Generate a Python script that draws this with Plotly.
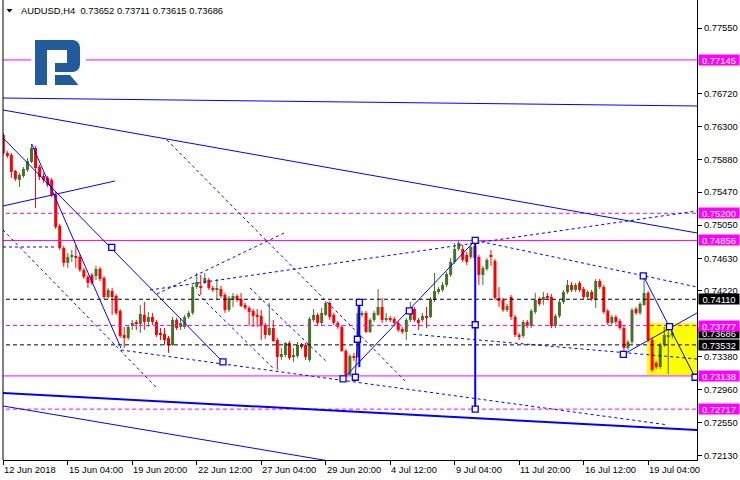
import plotly.graph_objects as go

# ---------------- data (AUDUSD H4 candles, index 0 = 12 Jun 2018 12:00) ----------------
opens = [
    0.76194, 0.75965, 0.75940, 0.75737, 0.75623, 0.75674, 0.75750, 0.75852, 0.76029, 0.75788,
    0.75674, 0.75649, 0.75623, 0.75433, 0.75040, 0.74761, 0.74571, 0.74647, 0.74647, 0.74647,
    0.74482, 0.74393, 0.74419, 0.74406, 0.74495, 0.74380, 0.74139, 0.74215, 0.74152, 0.73962,
    0.73658, 0.73620, 0.73772, 0.73810, 0.73797, 0.73912, 0.73823, 0.73886, 0.73823, 0.73670,
    0.73670, 0.73620, 0.73531, 0.73848, 0.73759, 0.73759, 0.73886, 0.73937, 0.74266, 0.74273,
    0.74317, 0.74355, 0.74254, 0.74235, 0.74241, 0.74165, 0.73975, 0.74114, 0.74152, 0.74114,
    0.74038, 0.74000, 0.73962, 0.73912, 0.73899, 0.73785, 0.73658, 0.73746, 0.73594, 0.73379,
    0.73404, 0.73556, 0.73379, 0.73391, 0.73531, 0.73531, 0.73341, 0.73848, 0.73912, 0.73810,
    0.73912, 0.74063, 0.73912, 0.73810, 0.73759, 0.73455, 0.73151, 0.73391, 0.73379, 0.73912,
    0.73937, 0.73696, 0.73848, 0.73912, 0.74012, 0.73854, 0.73861, 0.73861, 0.73810, 0.73734,
    0.73696, 0.73848, 0.73987, 0.73848, 0.73848, 0.73886, 0.73886, 0.74101, 0.74203, 0.74228,
    0.74292, 0.74419, 0.74584, 0.74748, 0.74748, 0.74672, 0.74647, 0.74786, 0.74647, 0.74419,
    0.74495, 0.74659, 0.74596, 0.74127, 0.74101, 0.73975, 0.74139, 0.73886, 0.73658, 0.73645,
    0.73823, 0.73772, 0.73950, 0.74114, 0.74101, 0.74139, 0.74139, 0.73772, 0.73899, 0.74076,
    0.74203, 0.74292, 0.74228, 0.74317, 0.74241, 0.74139, 0.74203, 0.74114, 0.74342, 0.74266,
    0.73962, 0.73810, 0.73886, 0.73835, 0.73746, 0.73493, 0.73569, 0.73987, 0.73937, 0.74038,
    0.74190, 0.73594, 0.73303, 0.73252, 0.73531, 0.73645, 0.73652,
]
highs = [
    0.76219, 0.75990, 0.75965, 0.75750, 0.75712, 0.75788, 0.75902, 0.76079, 0.76054, 0.75813,
    0.75712, 0.75674, 0.75649, 0.75471, 0.75065, 0.74786, 0.74697, 0.74735, 0.74799, 0.74672,
    0.74507, 0.74419, 0.74444, 0.74533, 0.74520, 0.74406, 0.74254, 0.74254, 0.74177, 0.73987,
    0.73759, 0.73785, 0.73848, 0.73848, 0.74038, 0.74076, 0.73950, 0.73937, 0.73848, 0.73746,
    0.73746, 0.73645, 0.73886, 0.73873, 0.73873, 0.73912, 0.73962, 0.74292, 0.74444, 0.74419,
    0.74444, 0.74380, 0.74279, 0.74368, 0.74279, 0.74190, 0.74152, 0.74190, 0.74177, 0.74190,
    0.74063, 0.74025, 0.73987, 0.73987, 0.73975, 0.73810, 0.74063, 0.73848, 0.73620, 0.73493,
    0.73569, 0.73581, 0.73493, 0.73569, 0.73556, 0.73556, 0.73886, 0.73987, 0.73937, 0.74000,
    0.74089, 0.74089, 0.73937, 0.73835, 0.73785, 0.73480, 0.73416, 0.73429, 0.74038, 0.73962,
    0.73962, 0.73873, 0.73962, 0.74241, 0.74127, 0.73937, 0.73899, 0.73886, 0.73835, 0.73759,
    0.73873, 0.74076, 0.74012, 0.73873, 0.73937, 0.74012, 0.74139, 0.74444, 0.74266, 0.74330,
    0.74457, 0.74634, 0.74824, 0.74850, 0.74799, 0.74710, 0.74824, 0.74856, 0.74672, 0.74533,
    0.74634, 0.74735, 0.74622, 0.74266, 0.74127, 0.74051, 0.74165, 0.73912, 0.73683, 0.73848,
    0.73848, 0.73987, 0.74190, 0.74139, 0.74203, 0.74190, 0.74177, 0.73924, 0.74101, 0.74228,
    0.74355, 0.74330, 0.74317, 0.74342, 0.74266, 0.74228, 0.74228, 0.74368, 0.74368, 0.74292,
    0.73987, 0.73912, 0.73912, 0.73861, 0.73772, 0.73594, 0.74000, 0.74012, 0.74076, 0.74393,
    0.74215, 0.73620, 0.73328, 0.73556, 0.73759, 0.73759, 0.73711,
]
lows = [
    0.75940, 0.75902, 0.75649, 0.75610, 0.75534, 0.75649, 0.75725, 0.75839, 0.75268, 0.75623,
    0.75585, 0.75534, 0.75407, 0.75002, 0.74735, 0.74520, 0.74507, 0.74584, 0.74507, 0.74457,
    0.74368, 0.74254, 0.74292, 0.74355, 0.74342, 0.74114, 0.74114, 0.73912, 0.73912, 0.73620,
    0.73493, 0.73594, 0.73721, 0.73721, 0.73683, 0.73721, 0.73759, 0.73785, 0.73632, 0.73594,
    0.73531, 0.73429, 0.73518, 0.73721, 0.73721, 0.73734, 0.73861, 0.73912, 0.74241, 0.74165,
    0.74304, 0.74228, 0.74203, 0.74101, 0.74127, 0.73937, 0.73950, 0.74012, 0.74076, 0.74012,
    0.73975, 0.73772, 0.73759, 0.73759, 0.73594, 0.73607, 0.73645, 0.73569, 0.73214, 0.73341,
    0.73379, 0.73341, 0.73316, 0.73366, 0.73480, 0.73341, 0.73316, 0.73823, 0.73772, 0.73785,
    0.73899, 0.73848, 0.73785, 0.73734, 0.73442, 0.73138, 0.73138, 0.73328, 0.73366, 0.73886,
    0.73683, 0.73683, 0.73823, 0.73899, 0.73810, 0.73823, 0.73823, 0.73785, 0.73696, 0.73670,
    0.73594, 0.73823, 0.73823, 0.73721, 0.73823, 0.73746, 0.73873, 0.74076, 0.74177, 0.74203,
    0.74266, 0.74393, 0.74558, 0.74723, 0.74584, 0.74545, 0.74622, 0.74584, 0.74292, 0.74292,
    0.74469, 0.74533, 0.74101, 0.74012, 0.73950, 0.73950, 0.73848, 0.73632, 0.73594, 0.73620,
    0.73746, 0.73746, 0.73924, 0.74025, 0.74038, 0.74101, 0.73746, 0.73746, 0.73873, 0.74051,
    0.74177, 0.74203, 0.74203, 0.74203, 0.74114, 0.74114, 0.74089, 0.74000, 0.74241, 0.73924,
    0.73785, 0.73785, 0.73797, 0.73721, 0.73429, 0.73467, 0.73543, 0.73912, 0.73912, 0.74025,
    0.73569, 0.73189, 0.73227, 0.73227, 0.73505, 0.73163, 0.73615,
]
closes = [
    0.75965, 0.75927, 0.75725, 0.75636, 0.75687, 0.75763, 0.75864, 0.76029, 0.75775, 0.75661,
    0.75623, 0.75560, 0.75433, 0.75027, 0.74761, 0.74571, 0.74647, 0.74672, 0.74634, 0.74482,
    0.74393, 0.74317, 0.74317, 0.74495, 0.74368, 0.74139, 0.74228, 0.74139, 0.73937, 0.73645,
    0.73620, 0.73759, 0.73810, 0.73797, 0.73924, 0.73823, 0.73886, 0.73823, 0.73658, 0.73664,
    0.73594, 0.73531, 0.73848, 0.73746, 0.73810, 0.73886, 0.73937, 0.74266, 0.74330, 0.74266,
    0.74380, 0.74254, 0.74228, 0.74241, 0.74152, 0.73975, 0.74127, 0.74152, 0.74101, 0.74025,
    0.74000, 0.73950, 0.73899, 0.73886, 0.73772, 0.73658, 0.73746, 0.73581, 0.73379, 0.73416,
    0.73556, 0.73366, 0.73404, 0.73531, 0.73505, 0.73379, 0.73861, 0.73912, 0.73810, 0.73937,
    0.74063, 0.73886, 0.73810, 0.73759, 0.73455, 0.73151, 0.73391, 0.73366, 0.73937, 0.73937,
    0.73696, 0.73848, 0.73937, 0.74012, 0.73848, 0.73861, 0.73854, 0.73810, 0.73721, 0.73696,
    0.73848, 0.73975, 0.73848, 0.73810, 0.73899, 0.73880, 0.74114, 0.74215, 0.74241, 0.74292,
    0.74431, 0.74584, 0.74748, 0.74824, 0.74609, 0.74584, 0.74773, 0.74634, 0.74419, 0.74507,
    0.74609, 0.74653, 0.74127, 0.74089, 0.73975, 0.74025, 0.73886, 0.73658, 0.73632, 0.73823,
    0.73772, 0.73962, 0.74101, 0.74051, 0.74139, 0.74133, 0.73772, 0.73899, 0.74076, 0.74203,
    0.74292, 0.74228, 0.74292, 0.74228, 0.74139, 0.74203, 0.74114, 0.74342, 0.74266, 0.73950,
    0.73810, 0.73886, 0.73823, 0.73746, 0.73493, 0.73569, 0.73975, 0.73937, 0.74051, 0.74190,
    0.73594, 0.73214, 0.73252, 0.73531, 0.73658, 0.73651, 0.73686,
]

tick_index = [0, 16, 32, 48, 64, 80, 96, 112, 128, 144, 160]
tick_text = ["12 Jun 2018", "15 Jun 04:00", "19 Jun 20:00", "22 Jun 12:00", "27 Jun 04:00",
             "29 Jun 20:00", "4 Jul 12:00", "9 Jul 04:00", "11 Jul 20:00", "16 Jul 12:00",
             "19 Jul 04:00"]
price_ticks = [0.77550, 0.76720, 0.76300, 0.75880, 0.75470, 0.75050, 0.74630,
               0.74220, 0.73380, 0.72960, 0.72550, 0.72130]

levels_magenta_solid = [0.77145, 0.74856, 0.73138]
levels_magenta_dash = [0.75200, 0.73777, 0.72717]
levels_black_dash = [0.74110, 0.73532]
bid_price = 0.73686
zone_box = (159.7, 0.73151, 0.73810)   # start bar, low price, high price

# analysis objects: lists of (bar index, price) points
blue_solid = [
    [(-0.07, 0.76662), (172.13, 0.76561)],
    [(-0.07, 0.76510), (172.13, 0.74951)],
    [(-0.07, 0.75293), (27.7, 0.75610)],
    [(-0.07, 0.76155), (54.5, 0.73315)],
    [(7.05, 0.76079), (29.2, 0.73492)],
    [(-0.07, 0.72757), (172.13, 0.71273)],
    [(84.3, 0.73100), (117.1, 0.74856)],
    [(153.85, 0.73412), (172.13, 0.73936)],
    [(158.8, 0.74408), (171.65, 0.73121)],
    [(87.35, 0.73121), (87.85, 0.73603), (88.35, 0.74072)],
]
blue_thick = [
    [(-0.07, 0.72922), (172.13, 0.72453)],
    [(117.1, 0.74856), (117.1, 0.72717)],
    [(88.35, 0.74072), (88.35, 0.73250)],
]
blue_dash = [
    [(-0.07, 0.74989), (38.1, 0.72985)],
    [(-0.07, 0.74773), (13.3, 0.74773)],
    [(29.2, 0.73467), (164.2, 0.72522)],
    [(38.1, 0.74177), (70.2, 0.74963)],
    [(36.4, 0.74228), (172.13, 0.75230)],
    [(101.7, 0.73666), (172.13, 0.73353)],
    [(61.2, 0.74253), (80.3, 0.73315)],
    [(48.3, 0.74177), (67.4, 0.73213)],
    [(40.6, 0.76130), (100.2, 0.73049)],
    [(117.1, 0.74856), (172.13, 0.74266)],
]
anchor_points = [
    (26.9, 0.74769), (54.5, 0.73315), (84.3, 0.73100), (87.35, 0.73121), (87.85, 0.73603),
    (88.35, 0.74072), (100.75, 0.73962), (117.1, 0.74856), (117.1, 0.73787), (117.1, 0.72717),
    (153.85, 0.73412), (158.8, 0.74408), (165.3, 0.73762), (171.65, 0.73121),
]

# ---------------- styling ----------------
FONT = "Liberation Sans, Arial, sans-serif"
FS = 9.4
RED = "#ff0000"
GREEN = "#477228"
BLUE = "#0000ff"
MAGENTA = "#ff00ff"
XMIN, XMAX = -0.0744, 172.1315
YMIN, YMAX = 0.72072, 0.77905
L, R, T, B = 3, 43, 0, 20
PW, PH = 740 - L - R, 480 - T - B


def px2paper(x, y):
    return (x - L) / PW, (PH + T - y) / PH


def path_px(points):
    parts = []
    for k, (x, y) in enumerate(points):
        px, py = px2paper(x, y)
        parts.append(("M" if k == 0 else "L") + f"{px:.5f},{py:.5f}")
    return " ".join(parts) + " Z"


def segs_xy(segs):
    xs, ys = [], []
    for s in segs:
        for (a, b) in s:
            xs.append(a)
            ys.append(b)
        xs.append(None)
        ys.append(None)
    return xs, ys


n = len(opens)
idx = list(range(n))
is_up = [closes[i] >= opens[i] for i in idx]

fig = go.Figure()

# wicks
for up_flag, col in ((True, GREEN), (False, RED)):
    wx, wy = [], []
    for i in idx:
        if is_up[i] == up_flag:
            wx += [i, i, None]
            wy += [lows[i], highs[i], None]
    fig.add_trace(go.Scatter(x=wx, y=wy, mode="lines", line=dict(color=col, width=1),
                             hoverinfo="skip"))

# bodies
MINB = 0.00012
base, height, cols = [], [], []
for i in idx:
    lo, hi = min(opens[i], closes[i]), max(opens[i], closes[i])
    if hi - lo < MINB:
        mid = (hi + lo) / 2
        lo, hi = mid - MINB / 2, mid + MINB / 2
    base.append(lo)
    height.append(hi - lo)
    cols.append(GREEN if is_up[i] else RED)
fig.add_trace(go.Bar(x=idx, y=height, base=base, width=0.74, marker=dict(color=cols, line=dict(width=0)),
                     hoverinfo="skip"))


def hline(p, color, dash, width=1):
    fig.add_trace(go.Scatter(x=[XMIN - 1, XMAX + 1], y=[p, p], mode="lines",
                             line=dict(color=color, width=width, dash=dash), hoverinfo="skip"))


for p in levels_magenta_solid:
    hline(p, MAGENTA, "solid")
for p in levels_magenta_dash:
    hline(p, MAGENTA, "4px,3px")
for p in levels_black_dash:
    hline(p, "#000000", "4px,3px")

# analysis lines
x, y = segs_xy(blue_dash)
fig.add_trace(go.Scatter(x=x, y=y, mode="lines", line=dict(color=BLUE, width=1, dash="3px,3px"),
                         hoverinfo="skip"))
x, y = segs_xy(blue_solid)
fig.add_trace(go.Scatter(x=x, y=y, mode="lines", line=dict(color=BLUE, width=1), hoverinfo="skip"))
x, y = segs_xy(blue_thick)
fig.add_trace(go.Scatter(x=x, y=y, mode="lines", line=dict(color=BLUE, width=2), hoverinfo="skip"))
fig.add_trace(go.Scatter(x=[a for a, b in anchor_points], y=[b for a, b in anchor_points], mode="markers",
                         marker=dict(symbol="square", size=6, color="white", line=dict(color=BLUE, width=1.3)),
                         hoverinfo="skip"))

shapes = [
    dict(type="rect", xref="x", yref="y", x0=zone_box[0], x1=XMAX + 2, y0=zone_box[1], y1=zone_box[2],
         fillcolor="#ffff00", line=dict(width=0), layer="below"),
    dict(type="line", xref="paper", yref="y", x0=0, x1=1, y0=bid_price, y1=bid_price,
         line=dict(color="white", width=1), layer="below"),
    dict(type="line", xref="paper", yref="paper", x0=0, x1=0, y0=0, y1=1,
         line=dict(color="black", width=1), layer="above"),
    dict(type="path", xref="paper", yref="paper", path=path_px([(31, 36), (86, 36), (86, 90), (31, 90)]),
         fillcolor="white", line=dict(width=0), layer="above"),
    dict(type="path", xref="paper", yref="paper",
         path=path_px([(35, 40), (73, 40), (76.5, 41), (79, 43.5), (80, 47), (80, 65), (79, 68.5),
                       (76.5, 71), (73, 72), (55, 72), (55, 63), (67, 63), (67, 50), (47, 50),
                       (47, 85), (35, 85)]),
         fillcolor="#225a9c", line=dict(width=0), layer="above"),
    dict(type="path", xref="paper", yref="paper",
         path=path_px([(55, 75), (70, 75), (78.5, 85), (55, 85)]),
         fillcolor="#225a9c", line=dict(width=0), layer="above"),
    dict(type="path", xref="paper", yref="paper",
         path=path_px([(6.5, 9), (12.5, 9), (9.5, 12.5)]),
         fillcolor="black", line=dict(width=0), layer="above"),
]

annotations = []
tx, ty = px2paper(19, 10.5)
annotations.append(dict(xref="paper", yref="paper", x=tx, y=ty, xanchor="left", yanchor="middle",
                        text="AUDUSD,H4\u00a0\u00a00.73652 0.73711 0.73615 0.73686", showarrow=False,
                        font=dict(family=FONT, size=FS, color="black")))
for ti, tt in zip(tick_index, tick_text):
    annotations.append(dict(xref="x", yref="paper", x=ti, y=0, xanchor="left", yanchor="top",
                            yshift=-2, xshift=-1, text=tt, showarrow=False,
                            font=dict(family=FONT, size=FS, color="black")))

label_boxes = [(bid_price, "#000000")] + [(p, MAGENTA) for p in levels_magenta_solid + levels_magenta_dash] + \
              [(p, "#000000") for p in levels_black_dash]
for p, bg in label_boxes:
    annotations.append(dict(xref="paper", yref="y", x=1, y=p, xanchor="left", yanchor="middle",
                            xshift=1, text=f"{p:.5f}", showarrow=False, bgcolor=bg, borderpad=0,
                            width=40, height=10, align="center",
                            font=dict(family=FONT, size=FS, color="white")))

fig.update_layout(
    width=740, height=480,
    margin=dict(l=L, r=R, t=T, b=B),
    paper_bgcolor="white", plot_bgcolor="white",
    showlegend=False, hovermode=False,
    shapes=shapes, annotations=annotations,
    xaxis=dict(range=[XMIN, XMAX], showgrid=False, zeroline=False, showline=True, linecolor="black",
               linewidth=1, ticks="outside", ticklen=4, tickcolor="black", tickvals=tick_index,
               showticklabels=False, fixedrange=True),
    yaxis=dict(range=[YMIN, YMAX], side="right", showgrid=False, zeroline=False, showline=True,
               linecolor="black", linewidth=1, ticks="outside", ticklen=4, tickcolor="black",
               tickvals=price_ticks, ticktext=[f"{v:.5f}" for v in price_ticks],
               tickfont=dict(family=FONT, size=FS, color="black"), fixedrange=True),
)

fig.write_html("out.html", config={"displayModeBar": False},
               post_script="document.body.style.margin='0';document.body.style.overflow='hidden';")
